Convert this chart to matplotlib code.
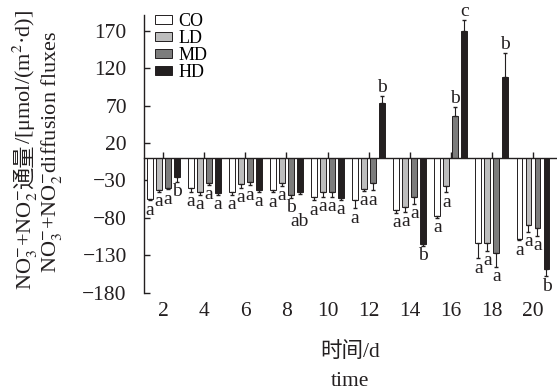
import numpy as np
import matplotlib
matplotlib.use('Agg')
import matplotlib.pyplot as plt

plt.rcParams['font.family'] = ['Liberation Serif', 'Noto Sans CJK SC', 'DejaVu Serif']
plt.rcParams['mathtext.fontset'] = 'stix'

# data
days = ['2', '4', '6', '8', '10', '12', '14', '16', '18', '20']
groups = ['CO', 'LD', 'MD', 'HD']
co = [-55, -40, -46, -43, -52, -56, -70, -77, -114, -108]
co_err = [1.5, 5, 3, 3, 4.5, 11, 3, 3, 20, 2]
ld = [-43, -46, -35, -33, -46, -42, -66, -37, -113, -90]
ld_err = [2, 3, 5, 4, 6, 1.5, 6, 9, 11, 9]
md = [-40, -34, -32, -49, -46, -33, -52, 56, -127, -94]
md_err = [2, 1.5, 4.5, 4.5, 6, 10, 9, 12, 18, 10]
hd = [-26, -47, -43, -46, -54, 74, -115, 169, 108, -149]
hd_err = [6, 2, 2, 2, 2, 9, 2, 15, 32, 9]
letters_co = ['a'] * 10
letters_ld = ['a'] * 10
letters_md = ['a', 'a', 'a', 'b', 'a', 'a', 'a', 'b', 'a', 'a']
letters_hd = ['b', 'a', 'a', 'ab', 'a', 'b', 'b', 'c', 'b', 'b']

values = [co, ld, md, hd]
errs = [co_err, ld_err, md_err, hd_err]
letters = [letters_co, letters_ld, letters_md, letters_hd]
colors = ['white', '#bdbdbd', '#7c7c7c', '#231f20']
dark = '#231f20'

W, H = 557, 391
fig = plt.figure(figsize=(W / 100, H / 100), dpi=100)
ax = fig.add_axes([143.5 / W, 1 - 292.7 / H, (556 - 143.5) / W, (292.7 - 15) / H])

x = np.arange(len(days))
width = 0.145
step = 0.219
for i, (vals, err, col, name) in enumerate(zip(values, errs, colors, groups)):
    pos = x + (i - 1.5) * step
    vals = np.array(vals, dtype=float)
    err = np.array(err, dtype=float)
    ax.bar(pos, vals, width, color=col, edgecolor=dark, linewidth=0.7, label=name, zorder=2)
    lower = np.where(vals < 0, err, 0)
    upper = np.where(vals > 0, err, 0)
    ax.errorbar(pos, vals, yerr=[lower, upper], fmt='none', ecolor=dark,
                elinewidth=0.8, capsize=1.3, capthick=1.0, zorder=3)
    for j, (p, v, e) in enumerate(zip(pos, vals, err)):
        # the "ab" of day 8 sits lower so it clears the "b" beside it
        extra = -13 if (i == 3 and j == 3) else 0
        if v < 0:
            ax.annotate(letters[i][j], (p, v - e), xytext=(0, -1 + extra),
                        textcoords='offset points', ha='center', va='top', fontsize=14, color=dark)
        else:
            ax.annotate(letters[i][j], (p, v + e), xytext=(0, 0),
                        textcoords='offset points', ha='center', va='bottom', fontsize=14, color=dark)

ax.set_xlim(-0.48, 9.56)
ax.set_ylim(-180, 191)
ax.set_yticks(np.arange(-180, 171, 50))
ax.spines['top'].set_visible(False)
ax.spines['right'].set_visible(False)
ax.spines['bottom'].set_position(('data', 0))
for s in ['left', 'bottom']:
    ax.spines[s].set_color(dark)
    ax.spines[s].set_linewidth(1.0)
ax.tick_params(axis='y', direction='in', length=4.5, width=1.0, color=dark,
               labelsize=15.5, pad=12, labelcolor=dark)
ax.set_xticks(x)
ax.tick_params(axis='x', direction='in', length=4, width=1.0, color=dark, labelbottom=False)

sec = ax.secondary_xaxis('bottom')
sec.set_xticks(x, days)
sec.tick_params(length=0, pad=7, labelsize=15.5, labelcolor=dark)
sec.spines['bottom'].set_visible(False)

ax.legend(loc='upper left', bbox_to_anchor=(0.028, 1.008), frameon=False, fontsize=13,
          borderpad=0, labelspacing=0.0, handlelength=0.95, handleheight=0.35,
          handletextpad=0.35, borderaxespad=0)

fig.text(350 / W, 1 - 352 / H, '时间/d', ha='center', va='center', fontsize=15.5,
         color=dark, fontweight='light')
fig.text(350 / W, 1 - 381 / H, 'time', ha='center', va='center', fontsize=15.5, color=dark)


def vlabel(pieces, x_px, yc_px, size):
    r = fig.canvas.get_renderer()
    texts = []
    for s, fam in pieces:
        t = fig.text(0, 0, s, rotation=90, rotation_mode='anchor', ha='left',
                     va='baseline', family=fam, fontsize=size, color=dark)
        texts.append(t)
    lens = [t.get_window_extent(r).height for t in texts]
    y0 = yc_px + sum(lens) / 2
    for t, L in zip(texts, lens):
        t.set_position((x_px / W, 1 - y0 / H))
        y0 -= L
    return texts


serif = ['Liberation Serif', 'DejaVu Serif']
line1 = vlabel([(r'NO$_3^{-}$+NO$_2^{-}$', serif), ('通量', ['Noto Sans CJK SC']),
                (r'/[μmol/(m$^2$·d)]', serif)], 31, 150, 16)
line1[1].set_fontweight('light')
vlabel([(r'NO$_3^{-}$+NO$_2^{-}$diffusion fluxes', serif)], 56, 152, 16)

fig.savefig('out.png', dpi=100)
